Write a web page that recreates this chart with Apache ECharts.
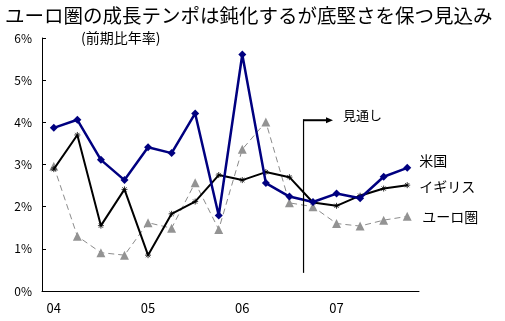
<!DOCTYPE html>
<html>
<head>
<meta charset="utf-8">
<script src="https://cdn.jsdelivr.net/npm/echarts@6/dist/echarts.min.js"></script>
<style>
html,body{margin:0;padding:0;background:#fff;}
#c{width:505px;height:321px;}
</style>
</head>
<body>
<div id="c"></div>
<script>
// ---- data ----
const quarters = ['04Q1','04Q2','04Q3','04Q4','05Q1','05Q2','05Q3','05Q4','06Q1','06Q2','06Q3','06Q4','07Q1','07Q2','07Q3','07Q4'];
const yearLabels = {'04Q1':'04','05Q1':'05','06Q1':'06','07Q1':'07'};
const us   = [3.87, 4.06, 3.11, 2.63, 3.41, 3.27, 4.21, 1.79, 5.61, 2.56, 2.24, 2.11, 2.31, 2.20, 2.71, 2.92];
const uk   = [2.89, 3.70, 1.55, 2.41, 0.85, 1.83, 2.12, 2.75, 2.63, 2.82, 2.70, 2.10, 2.02, 2.26, 2.43, 2.51];
const euro = [2.96, 1.30, 0.91, 0.85, 1.62, 1.49, 2.57, 1.46, 3.36, 4.01, 2.09, 2.00, 1.60, 1.54, 1.68, 1.77];
const seriesNames = ['米国', 'イギリス', 'ユーロ圏'];
const yTicks = [0, 1, 2, 3, 4, 5, 6];
const titleText = 'ユーロ圏の成長テンポは鈍化するが底堅さを保つ見込み';
const subtitleText = '(前期比年率)';
const forecastText = '見通し';
// annotation anchor (in data units: category index position, percent)
const forecastPos = 10.6, forecastArrowEnd = 11.85, forecastTop = 4.05, forecastBottom = 0.43;

const FONT = '"Noto Sans CJK JP", "Noto Sans", sans-serif';
const chart = echarts.init(document.getElementById('c'), null, {renderer: 'canvas'});

const asterisk = 'path://M0,5L10,5M5,0L5,10M1.5,1.5L8.5,8.5M8.5,1.5L1.5,8.5';

const option = {
  animation: false,
  backgroundColor: '#fff',
  textStyle: {fontFamily: FONT},
  title: [
    {text: titleText, left: 0, top: 1, textStyle: {fontFamily: FONT, fontSize: 19.5, fontWeight: 'normal', color: '#000'}},
    {text: subtitleText, left: 76, top: 26, textStyle: {fontFamily: FONT, fontSize: 14, fontWeight: 'normal', color: '#000'}}
  ],
  grid: {left: 42, right: 86, top: 38, bottom: 30, containLabel: false},
  xAxis: {
    type: 'category',
    data: quarters,
    boundaryGap: true,
    axisLine: {lineStyle: {color: '#000', width: 1}},
    axisTick: {inside: true, length: 4, interval: 0, lineStyle: {color: '#000'}},
    axisLabel: {interval: 0, margin: 11, fontSize: 13, color: '#000', fontFamily: FONT,
      formatter: v => yearLabels[v] || ''},
    splitLine: {show: false}
  },
  yAxis: {
    type: 'value',
    min: yTicks[0], max: yTicks[yTicks.length - 1], interval: 1,
    axisLine: {show: true, lineStyle: {color: '#000', width: 1}},
    axisTick: {show: true, inside: true, length: 4, lineStyle: {color: '#000'}},
    axisLabel: {margin: 10, fontSize: 12, color: '#000', fontFamily: FONT, formatter: '{value}%'},
    splitLine: {show: false}
  },
  series: [
    {
      name: seriesNames[0], type: 'line', data: us, z: 3,
      symbol: 'diamond', symbolSize: 8,
      lineStyle: {color: '#000080', width: 2.5},
      itemStyle: {color: '#000080'},
      endLabel: {show: true, formatter: '{a}', color: '#000', fontSize: 14, fontFamily: FONT, distance: 12, offset: [0, -7]}
    },
    {
      name: seriesNames[1], type: 'line', data: uk, z: 2,
      symbol: asterisk, symbolSize: 6,
      lineStyle: {color: '#000', width: 2},
      itemStyle: {color: '#000', borderColor: '#000', borderWidth: 0.8},
      endLabel: {show: true, formatter: '{a}', color: '#000', fontSize: 14, fontFamily: FONT, distance: 12, offset: [0, 2]}
    },
    {
      name: seriesNames[2], type: 'line', data: euro, z: 1,
      symbol: 'triangle', symbolSize: 9,
      lineStyle: {color: '#8c8c8c', width: 1, type: [6, 4]},
      itemStyle: {color: '#939393'},
      endLabel: {show: true, formatter: '{a}', color: '#000', fontSize: 14, fontFamily: FONT, distance: 15, offset: [0, 0]}
    }
  ]
};
chart.setOption(option);

function px(idxPos, val) {
  const i0 = Math.floor(idxPos), f = idxPos - i0;
  const a = chart.convertToPixel({gridIndex: 0}, [i0, val]);
  const b = chart.convertToPixel({gridIndex: 0}, [i0 + 1, val]);
  return [a[0] + (b[0] - a[0]) * f, a[1]];
}
const pTop = px(forecastPos, forecastTop);
const pBot = px(forecastPos, forecastBottom);
const pEnd = px(forecastArrowEnd, forecastTop);
chart.setOption({
  graphic: [
    {type: 'line', shape: {x1: pBot[0], y1: pBot[1], x2: pTop[0], y2: pTop[1] - 1}, style: {stroke: '#000', lineWidth: 1.2}, z: 10},
    {type: 'line', shape: {x1: pTop[0], y1: pTop[1], x2: pEnd[0] - 5, y2: pEnd[1]}, style: {stroke: '#000', lineWidth: 2}, z: 10},
    {type: 'polygon', shape: {points: [[pEnd[0] - 7, pEnd[1] - 3], [pEnd[0], pEnd[1]], [pEnd[0] - 7, pEnd[1] + 3]]}, style: {fill: '#000'}, z: 10},
    {type: 'text', x: pEnd[0] + 10, y: pEnd[1] - 5, style: {text: forecastText, fontSize: 13, fontFamily: FONT, fill: '#000', textVerticalAlign: 'middle'}, z: 10}
  ]
});
</script>
</body>
</html>
